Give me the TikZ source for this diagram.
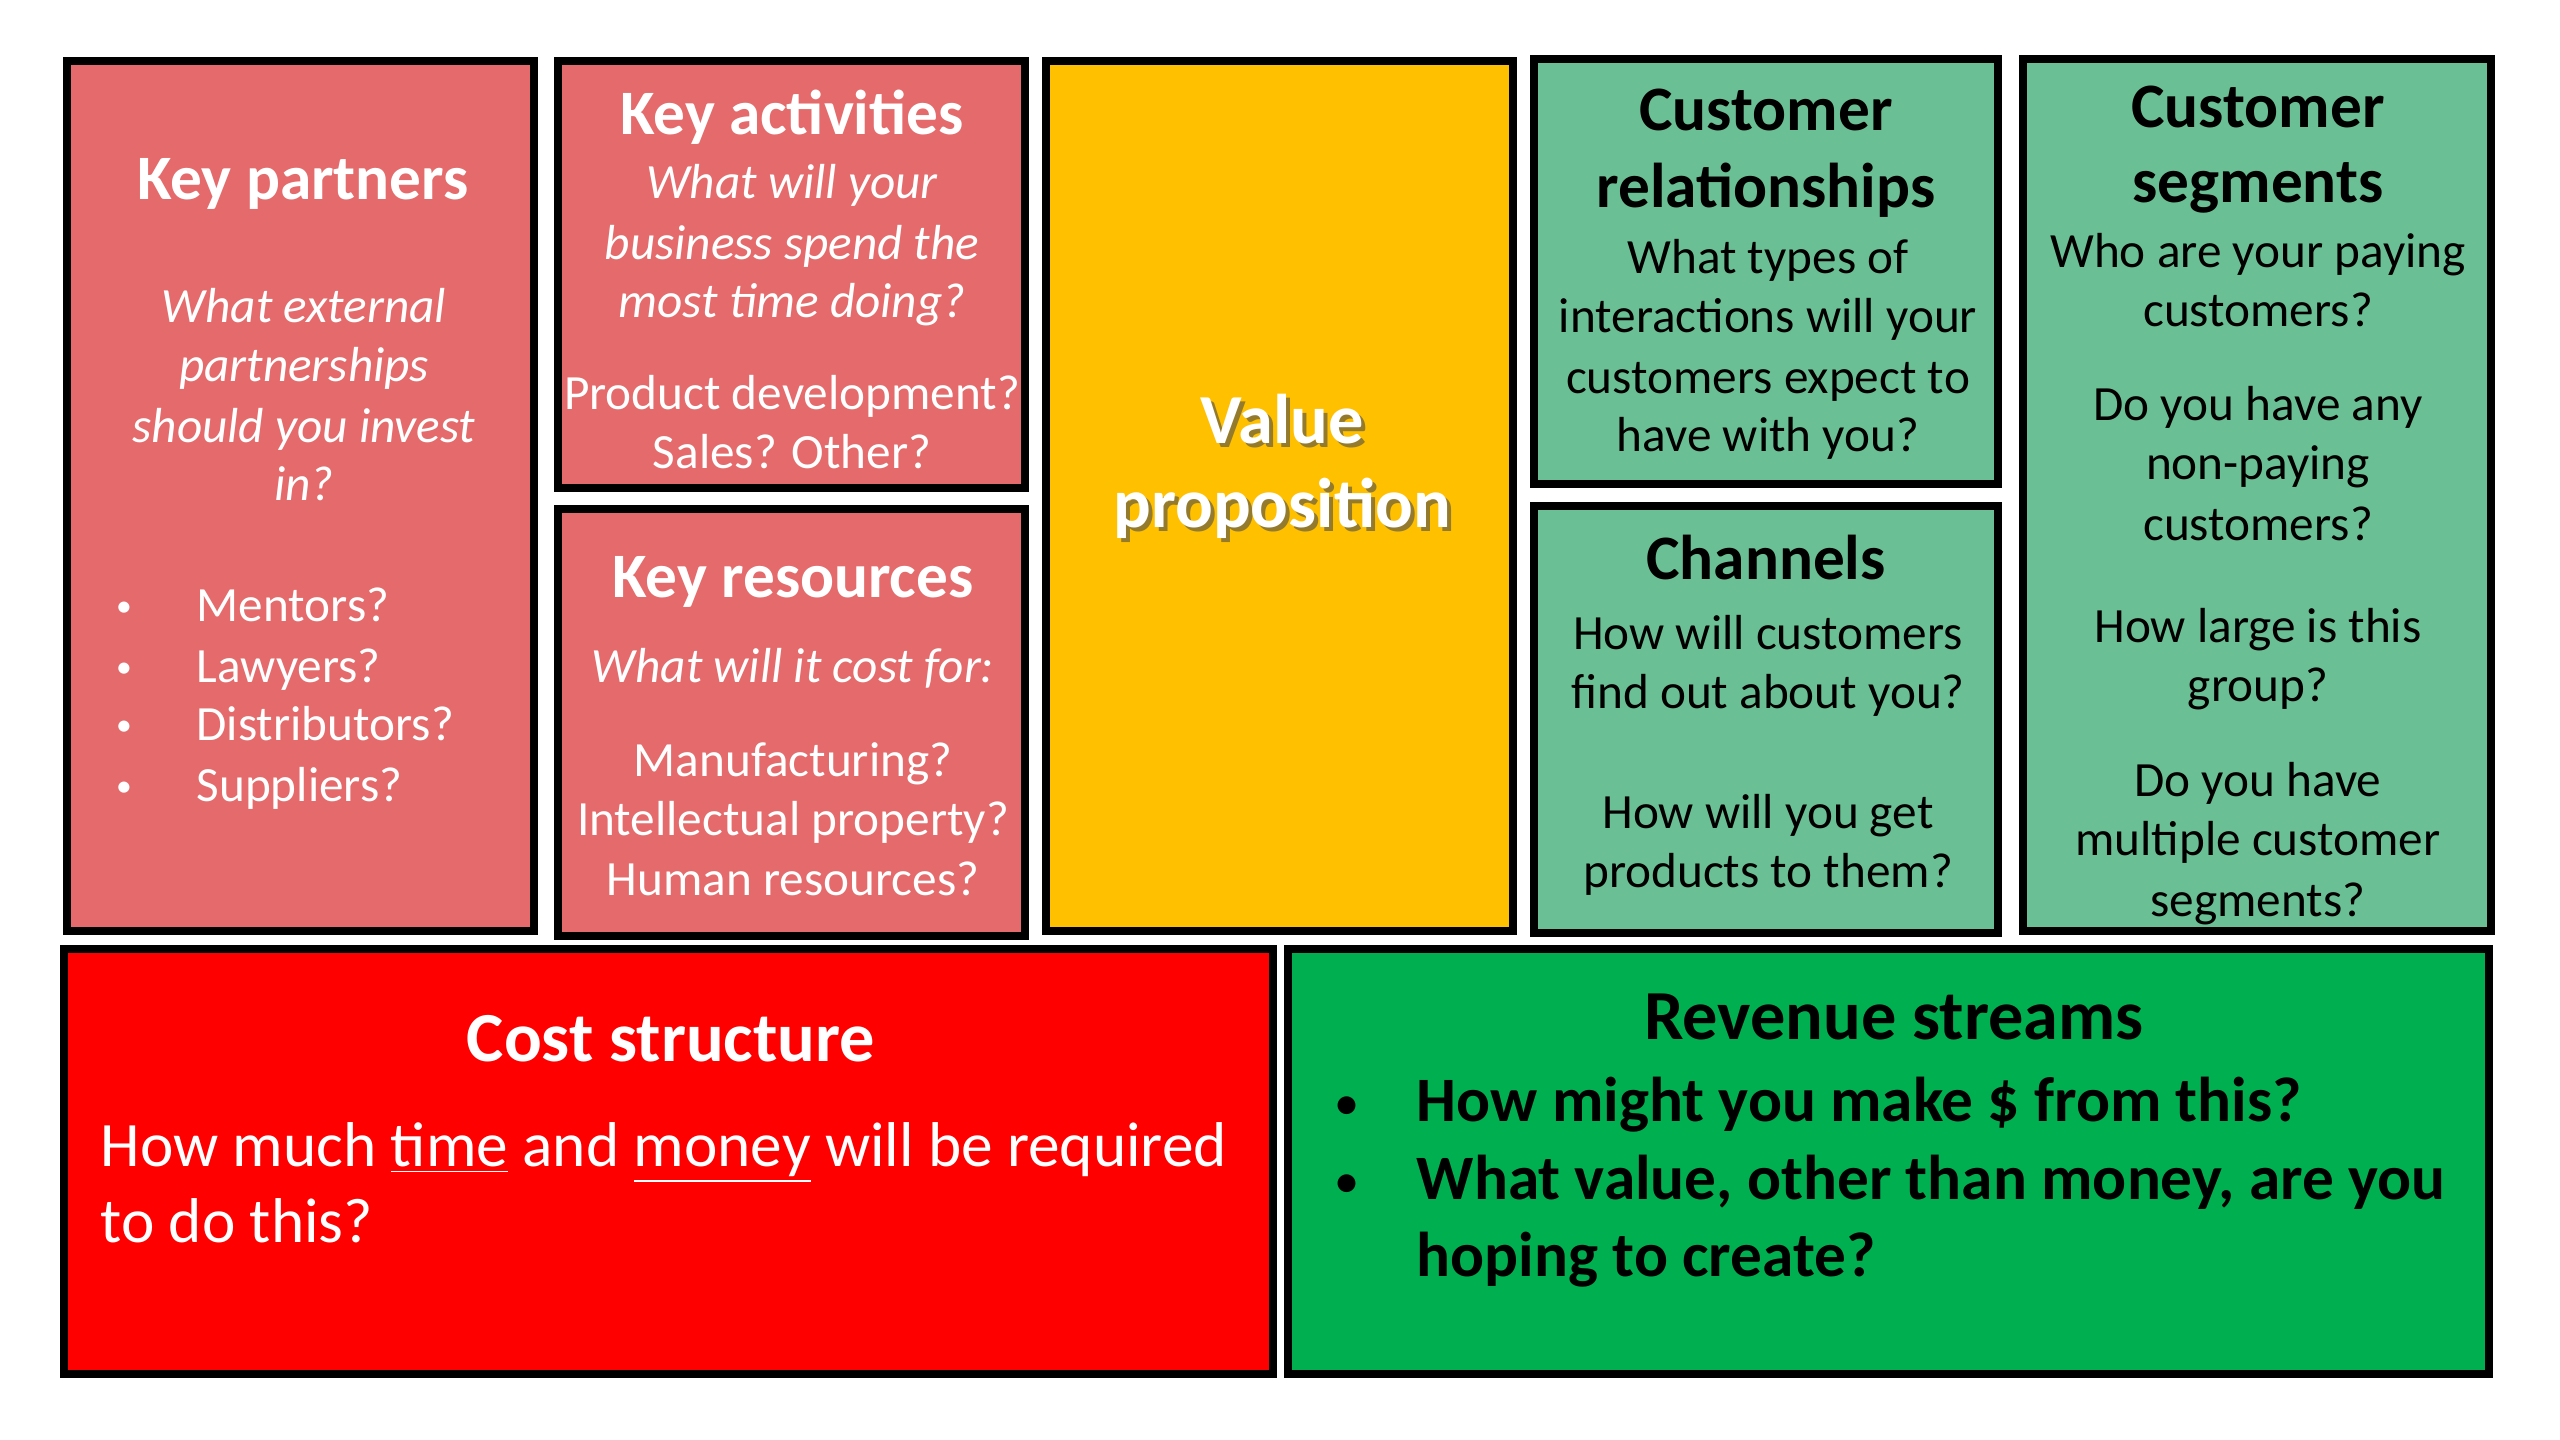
\documentclass[tikz,border=0pt]{standalone}
\usepackage{fontspec}
\setmainfont{Carlito}
\usetikzlibrary{fit,shadows}
\definecolor{kpink}{RGB}{229,106,107}
\definecolor{vpyel}{RGB}{255,192,0}
\definecolor{lgreen}{RGB}{106,192,148}
\definecolor{cred}{RGB}{255,0,0}
\definecolor{rgreen}{RGB}{0,176,80}
\newcommand\kbody{\fontsize{14}{17}\selectfont}
\newcommand\ktitle{\fontsize{18}{22}\selectfont\bfseries}
\newcommand\kbig{\fontsize{20}{24}\selectfont\bfseries}
\newcommand\kmid{\fontsize{18}{22}\selectfont}
\newcommand\kdot{\fontsize{9}{10}\selectfont}
\newcommand\kdotb{\fontsize{12}{14}\selectfont\bfseries}
\begin{document}
\begin{tikzpicture}[x=0.01cm,y=-0.01cm,
  box/.style={draw=black,line width=2.3pt,inner sep=0pt,
    drop shadow={shadow xshift=0.03cm,shadow yshift=-0.04cm,fill=black,opacity=0.25}},
  tw/.style={inner sep=0pt,anchor=base,text=white},
  tb/.style={inner sep=0pt,anchor=base,text=black},
  twl/.style={inner sep=0pt,anchor=base west,text=white},
  tbl/.style={inner sep=0pt,anchor=base west,text=black}]
\useasboundingbox (0,0) rectangle (2560,1440);
\fill[white] (0,0) rectangle (2560,1440);

% boxes
\node[box,fill=kpink,fit={(67,61) (534,931)}] (kp) {};
\node[box,fill=kpink,fit={(558,61) (1025,488)}] (ka) {};
\node[box,fill=kpink,fit={(558,509) (1025,936)}] (kr) {};
\node[box,fill=vpyel,fit={(1046,61) (1513,931)}] (vp) {};
\node[box,fill=lgreen,fit={(1534,59) (1998,484)}] (cr) {};
\node[box,fill=lgreen,fit={(1534,506) (1998,933)}] (ch) {};
\node[box,fill=lgreen,fit={(2023,59) (2491,931)}] (cs) {};
\node[box,fill=cred,fit={(64,949) (1273,1374)}] (cost) {};
\node[box,fill=rgreen,fit={(1288,949) (2489,1374)}] (rev) {};

\begin{scope}[shift={(0,3)}]
% Key partners
\node[tw,font=\ktitle] (kpt) at (303,197) {Key partners};
\node[tw,font=\kbody\itshape] (kp1) at (304,320) {What external};
\node[tw,font=\kbody\itshape] (kp2) at (304,379) {partnerships};
\node[tw,font=\kbody\itshape] (kp3) at (304,440) {should you invest};
\node[tw,font=\kbody\itshape] (kp4) at (304,498) {in?};
\node[tw,font=\kdot] (kpb1) at (124,614) {\textbullet};
\node[tw,font=\kdot] (kpb2) at (124,675) {\textbullet};
\node[tw,font=\kdot] (kpb3) at (124,733) {\textbullet};
\node[tw,font=\kdot] (kpb4) at (124,794) {\textbullet};
\node[twl,font=\kbody] (kpl1) at (196,619) {Mentors?};
\node[twl,font=\kbody] (kpl2) at (196,680) {Lawyers?};
\node[twl,font=\kbody] (kpl3) at (196,738) {Distributors?};
\node[twl,font=\kbody] (kpl4) at (196,799) {Suppliers?};

% Key activities
\node[tw,font=\ktitle] (kat) at (792,132) {Key activities};
\node[tw,font=\kbody\itshape] (ka1) at (792,196) {What will your};
\node[tw,font=\kbody\itshape] (ka2) at (792,257) {business spend the};
\node[tw,font=\kbody\itshape] (ka3) at (792,315) {most time doing?};
\node[tw,font=\kbody] (ka4) at (792,407) {Product development?};
\node[tw,font=\kbody] (ka5) at (792,466) {Sales? Other?};

% Key resources
\node[tw,font=\ktitle] (krt) at (793,595) {Key resources};
\node[tw,font=\kbody\itshape] (kr1) at (793,680) {What will it cost for:};
\node[tw,font=\kbody] (kr2) at (793,774) {Manufacturing?};
\node[tw,font=\kbody] (kr3) at (793,833) {Intellectual property?};
\node[tw,font=\kbody] (kr4) at (793,893) {Human resources?};

% Value proposition
\node[inner sep=0pt,anchor=base,text=black!70,opacity=0.6,font=\kbig] (vps1) at (1286,445) {Value};
\node[inner sep=0pt,anchor=base,text=black!70,opacity=0.6,font=\kbig] (vps2) at (1286,529) {proposition};
\node[tw,font=\kbig] (vp1) at (1282,441) {Value};
\node[tw,font=\kbig] (vp2) at (1282,525) {proposition};

% Customer relationships
\node[tb,font=\ktitle] (crt1) at (1766,128) {Customer};
\node[tb,font=\ktitle] (crt2) at (1766,205) {relationships};
\node[tb,font=\kbody] (cr1) at (1768,271) {What types of};
\node[tb,font=\kbody] (cr2) at (1768,330) {interactions will your};
\node[tb,font=\kbody] (cr3) at (1768,391) {customers expect to};
\node[tb,font=\kbody] (cr4) at (1768,449) {have with you?};

% Channels
\node[tb,font=\ktitle] (cht) at (1766,577) {Channels};
\node[tb,font=\kbody] (ch1) at (1768,647) {How will customers};
\node[tb,font=\kbody] (ch2) at (1768,706) {find out about you?};
\node[tb,font=\kbody] (ch3) at (1768,826) {How will you get};
\node[tb,font=\kbody] (ch4) at (1768,885) {products to them?};

% Customer segments
\node[tb,font=\ktitle] (cst1) at (2258,125) {Customer};
\node[tb,font=\ktitle] (cst2) at (2258,200) {segments};
\node[tb,font=\kbody] (cs1) at (2258,265) {Who are your paying};
\node[tb,font=\kbody] (cs2) at (2258,324) {customers?};
\node[tb,font=\kbody] (cs3) at (2258,418) {Do you have any};
\node[tb,font=\kbody] (cs4) at (2258,477) {non-paying};
\node[tb,font=\kbody] (cs5) at (2258,538) {customers?};
\node[tb,font=\kbody] (cs6) at (2258,640) {How large is this};
\node[tb,font=\kbody] (cs7) at (2258,699) {group?};
\node[tb,font=\kbody] (cs8) at (2258,794) {Do you have};
\node[tb,font=\kbody] (cs9) at (2258,853) {multiple customer};
\node[tb,font=\kbody] (cs10) at (2258,913) {segments?};

% Cost structure
\node[tw,font=\kbig] (costt) at (671,1058) {Cost structure};
\node[twl,font=\kmid] (cost1) at (100,1163) {How much \underline{time} and \underline{money} will be required};
\node[twl,font=\kmid] (cost2) at (100,1239) {to do this?};

% Revenue streams
\node[tb,font=\kbig] (revt) at (1894,1036) {Revenue streams};
\node[tb,font=\kdotb] (revb1) at (1347,1114) {\textbullet};
\node[tb,font=\kdotb] (revb2) at (1347,1192) {\textbullet};
\node[tbl,font=\kmid\bfseries] (rev1) at (1416,1118) {How might you make \$ from this?};
\node[tbl,font=\kmid\bfseries] (rev2) at (1416,1196) {What value, other than money, are you};
\node[tbl,font=\kmid\bfseries] (rev3) at (1416,1273) {hoping to create?};
\end{scope}
\end{tikzpicture}
\end{document}
